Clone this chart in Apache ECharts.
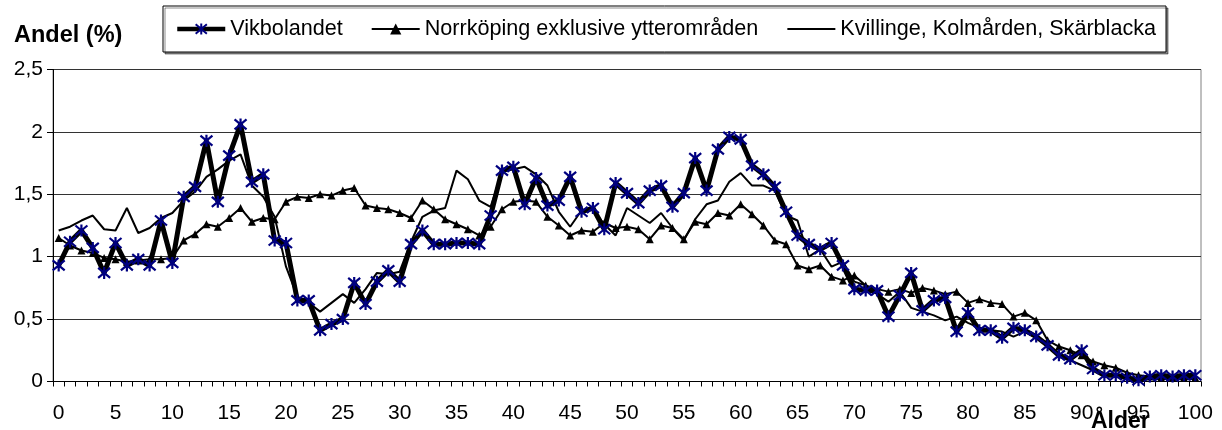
<!DOCTYPE html>
<html>
<head>
<meta charset="utf-8">
<script src="https://cdn.jsdelivr.net/npm/echarts@6/dist/echarts.min.js"></script>
<style>
html,body{margin:0;padding:0;background:#fff;}
#chart{width:1222px;height:430px;}
</style>
</head>
<body>
<div id="chart"></div>
<script>
const categories = [0,1,2,3,4,5,6,7,8,9,10,11,12,13,14,15,16,17,18,19,20,21,22,23,24,25,26,27,28,29,30,31,32,33,34,35,36,37,38,39,40,41,42,43,44,45,46,47,48,49,50,51,52,53,54,55,56,57,58,59,60,61,62,63,64,65,66,67,68,69,70,71,72,73,74,75,76,77,78,79,80,81,82,83,84,85,86,87,88,89,90,91,92,93,94,95,96,97,98,99,100];

const vikbolandet = [0.93,1.12,1.21,1.07,0.87,1.11,0.93,0.98,0.93,1.29,0.95,1.48,1.56,1.93,1.44,1.81,2.06,1.60,1.66,1.13,1.11,0.65,0.65,0.41,0.46,0.50,0.79,0.62,0.80,0.89,0.80,1.10,1.21,1.10,1.10,1.11,1.11,1.10,1.33,1.69,1.72,1.42,1.63,1.41,1.45,1.64,1.36,1.39,1.22,1.59,1.51,1.43,1.53,1.57,1.40,1.51,1.79,1.53,1.86,1.96,1.94,1.73,1.66,1.56,1.36,1.17,1.10,1.06,1.11,0.93,0.74,0.73,0.73,0.52,0.69,0.87,0.57,0.65,0.67,0.40,0.55,0.41,0.41,0.35,0.43,0.41,0.36,0.29,0.21,0.18,0.25,0.10,0.05,0.05,0.03,0.01,0.04,0.05,0.04,0.05,0.05];

const norrkoping = [1.15,1.09,1.05,1.03,0.99,0.98,0.96,0.97,0.98,0.98,0.99,1.13,1.18,1.26,1.24,1.31,1.39,1.28,1.31,1.30,1.44,1.48,1.47,1.50,1.49,1.53,1.55,1.41,1.39,1.38,1.35,1.31,1.45,1.38,1.30,1.26,1.22,1.17,1.24,1.38,1.44,1.45,1.44,1.32,1.25,1.17,1.21,1.20,1.27,1.23,1.24,1.22,1.14,1.25,1.23,1.14,1.28,1.26,1.35,1.33,1.42,1.34,1.25,1.13,1.10,0.93,0.90,0.93,0.84,0.81,0.85,0.77,0.74,0.72,0.74,0.71,0.75,0.73,0.70,0.72,0.63,0.66,0.63,0.62,0.52,0.55,0.49,0.33,0.28,0.25,0.21,0.16,0.13,0.11,0.07,0.05,0.04,0.03,0.03,0.03,0.03];

const kvillinge = [1.21,1.24,1.29,1.33,1.22,1.21,1.39,1.19,1.23,1.31,1.35,1.45,1.52,1.64,1.70,1.77,1.82,1.57,1.48,1.32,0.92,0.68,0.63,0.56,0.63,0.70,0.63,0.74,0.87,0.86,0.88,1.12,1.32,1.37,1.39,1.69,1.62,1.45,1.40,1.68,1.70,1.72,1.66,1.57,1.36,1.24,1.37,1.38,1.26,1.17,1.39,1.33,1.27,1.35,1.23,1.13,1.30,1.42,1.45,1.60,1.67,1.57,1.57,1.53,1.33,1.29,1.00,1.06,0.92,0.96,0.80,0.77,0.70,0.64,0.72,0.59,0.56,0.53,0.49,0.52,0.47,0.43,0.41,0.40,0.36,0.40,0.35,0.28,0.23,0.17,0.13,0.09,0.05,0.04,0.03,0.02,0.02,0.02,0.02,0.02,0.02];

const seriesNames = ['Vikbolandet','Norrköping exklusive ytterområden','Kvillinge, Kolmården, Skärblacka'];
const yAxisTitle = 'Andel (%)';
const xAxisTitle = 'Ålder';

const FONT = '"Liberation Sans", Arial, sans-serif';
const chart = echarts.init(document.getElementById('chart'), null, {renderer:'canvas'});
const asterisk = 'path://M0,0L10,10M0,10L10,0M5,-1L5,11';

chart.setOption({
  animation:false,
  backgroundColor:'#fff',
  textStyle:{fontFamily:FONT,color:'#000'},
  grid:{left:53,right:21,top:69.5,bottom:48.5,show:true,borderColor:'#808080',borderWidth:1,backgroundColor:'transparent'},
  legend:{
    left:163, top:6,
    padding:[12,10,12,12],
    itemGap:28, itemWidth:48, itemHeight:14,
    borderColor:'#000', borderWidth:1,
    shadowColor:'rgba(0,0,0,0.45)', shadowOffsetX:2, shadowOffsetY:2, shadowBlur:0,
    backgroundColor:'#fff',
    textStyle:{fontFamily:FONT,fontSize:21.6,color:'#000'},
    data:[
      {name:seriesNames[0],lineStyle:{width:4.5,color:'#000'}},
      {name:seriesNames[1],lineStyle:{width:2,color:'#000'}},
      {name:seriesNames[2],lineStyle:{width:2,color:'#000'},itemStyle:{opacity:0}}
    ]
  },
  graphic:[
    {type:'text',left:14,top:24,style:{text:yAxisTitle,font:'bold 23.5px '+FONT,fill:'#000'}},
    {type:'text',left:1091,top:410,style:{text:xAxisTitle,font:'bold 23px '+FONT,fill:'#000'}}
  ],
  xAxis:{
    type:'category',
    data:categories.map(String),
    boundaryGap:true,
    axisLine:{lineStyle:{color:'#000',width:1}},
    axisTick:{show:true,interval:0,length:5,lineStyle:{color:'#000'}},
    axisLabel:{interval:4,fontSize:21,fontFamily:FONT,color:'#000',margin:21},
    splitLine:{show:false}
  },
  yAxis:{
    type:'value',min:0,max:2.5,interval:0.5,
    axisLine:{show:true,lineStyle:{color:'#000',width:1}},
    axisTick:{show:true,length:6,lineStyle:{color:'#000'}},
    axisLabel:{fontSize:21,fontFamily:FONT,color:'#000',margin:10,
      formatter:function(v){return String(v).replace('.',',');}},
    splitLine:{show:true,lineStyle:{color:'#333',width:1}}
  },
  series:[
    {name:seriesNames[0],type:'line',data:vikbolandet,z:5,
      symbol:asterisk,symbolSize:12,showAllSymbol:true,
      lineStyle:{color:'#000',width:5},
      itemStyle:{color:'#000080',borderColor:'#000080',borderWidth:2.2}},
    {name:seriesNames[1],type:'line',data:norrkoping,z:4,
      symbol:'triangle',symbolSize:8,showAllSymbol:true,
      lineStyle:{color:'#000',width:2},
      itemStyle:{color:'#000',borderWidth:0}},
    {name:seriesNames[2],type:'line',data:kvillinge,z:3,
      symbol:'none',
      lineStyle:{color:'#000',width:2},
      itemStyle:{color:'#000'}}
  ]
});
</script>
</body>
</html>
